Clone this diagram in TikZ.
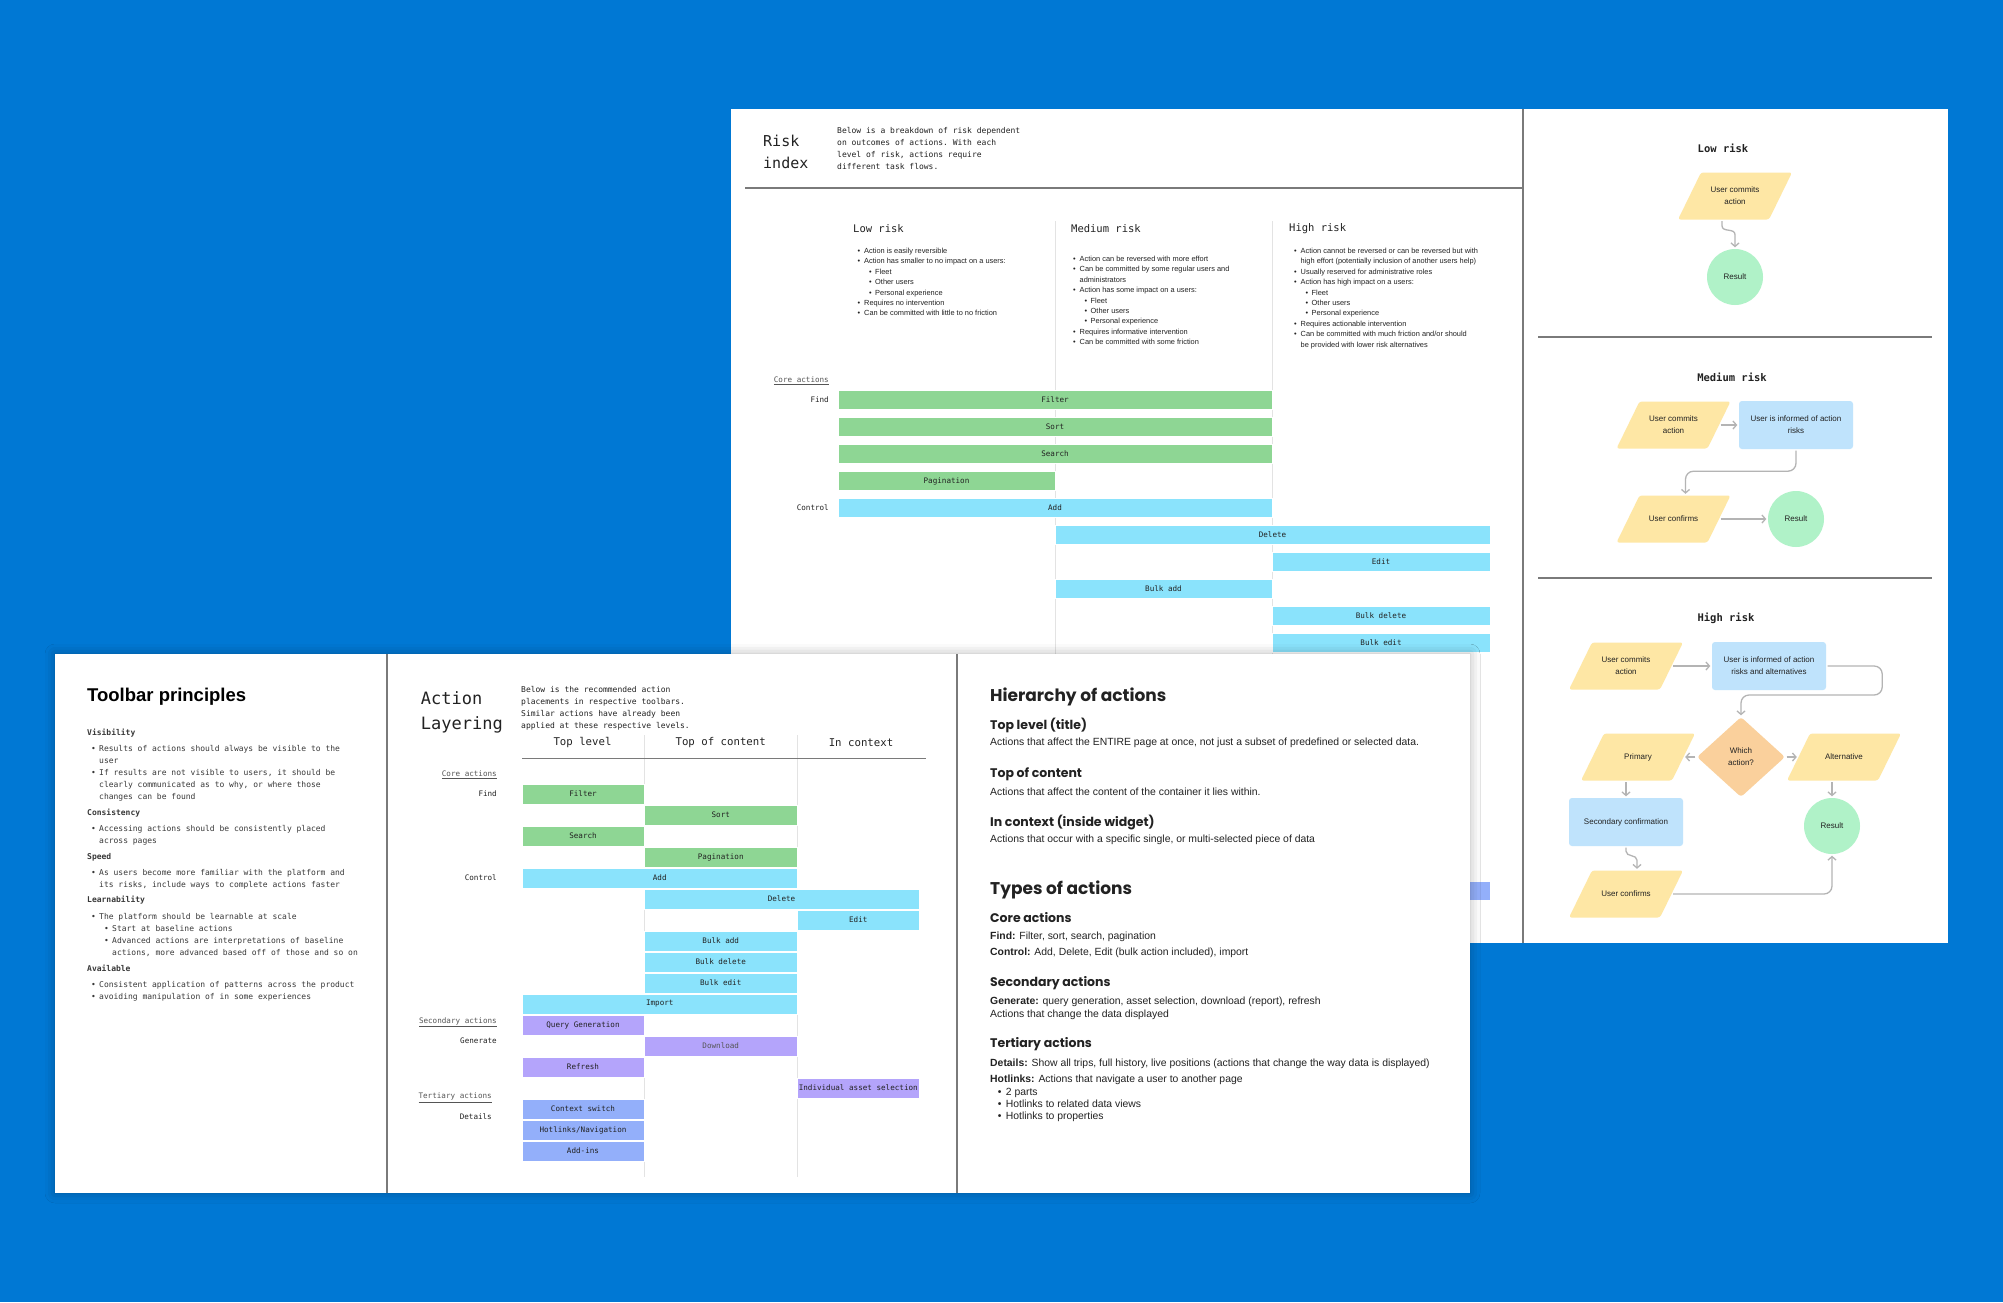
\documentclass[tikz,border=0pt]{standalone}
\usepackage{fontspec}
\setmainfont{Liberation Sans}
\setmonofont{DejaVu Sans Mono}
\newfontfamily\headfont{Poppins}
\usetikzlibrary{arrows.meta, positioning, shapes.geometric, shadows.blur}
\definecolor{cbg}{HTML}{0078D4}
\definecolor{cgreen}{HTML}{8ED694}
\definecolor{ccyan}{HTML}{8AE3FC}
\definecolor{cpurple}{HTML}{B4A4FB}
\definecolor{cperi}{HTML}{93AFFA}
\definecolor{cyellow}{HTML}{FEE7A5}
\definecolor{csky}{HTML}{BFE3FC}
\definecolor{cmint}{HTML}{B0F2C8}
\definecolor{corange}{HTML}{FAD09C}
\definecolor{carrow}{HTML}{B4B4B4}
\definecolor{crule}{HTML}{7A7A7A}
\definecolor{cfaint}{HTML}{E3E3E3}
\definecolor{cink}{HTML}{222222}
\definecolor{cgrey}{HTML}{555555}
\tikzset{
  sheet/.style={fill=white},
  divider/.style={draw=crule, line width=1.2pt},
  colline/.style={draw=cfaint, line width=0.8pt},
  mono/.style={font=\ttfamily\fontsize{8}{12}\selectfont, text=cink, inner sep=0pt, align=left},
  risklist/.style={font=\fontsize{7.4}{10.4}\selectfont, text=cink, inner sep=0pt, align=left, anchor=north west},
  colhead/.style={font=\ttfamily\fontsize{10.5}{12}\selectfont, text=cink, inner sep=0pt},
  rowlabel/.style={font=\ttfamily\fontsize{7.6}{9}\selectfont, text=cink, inner sep=0pt, anchor=east},
  grouplabel/.style={rowlabel, text=cgrey},
  actbar/.style={fill=#1, draw=white, line width=0.6pt, inner sep=0pt, minimum height=19pt, font=\ttfamily\fontsize{7.6}{9}\selectfont, text=cink},
  layerbar/.style={actbar=#1, minimum height=20pt},
  flowtitle/.style={font=\ttfamily\bfseries\fontsize{10.5}{12}\selectfont, text=cink, inner sep=0pt},
  flowtxt/.style={font=\fontsize{8}{12}\selectfont, text=cink, align=center, inner sep=0pt},
  flowpar/.style={flowtxt, minimum width=91pt, minimum height=47pt},
  flowbox/.style={flowtxt, fill=csky, rounded corners=3pt, minimum width=114pt, minimum height=48pt},
  flowend/.style={flowtxt, circle, fill=cmint, minimum size=56pt},
  flowask/.style={flowtxt, diamond, fill=corange, rounded corners=3pt, minimum width=88pt, minimum height=80pt},
  flow/.style={draw=carrow, line width=1.3pt, -{Straight Barb[length=3.5pt, width=8pt]}, shorten >=1.5pt, shorten <=1.5pt},
  hhead/.style={font=\headfont\bfseries\fontsize{17}{20}\selectfont, text=cink, inner sep=0pt, anchor=west},
  hsub/.style={font=\headfont\bfseries\fontsize{12.5}{15}\selectfont, text=cink, inner sep=0pt, anchor=west},
  hbody/.style={font=\fontsize{10.4}{12}\selectfont, text=cink, inner sep=0pt, align=left},
}
% yellow parallelogram behind a flow node
\newcommand{\parafill}[2]{\fill[cyellow, rounded corners=2.5pt] ({#1-34},{#2-23.5}) -- ({#1+57},{#2-23.5}) -- ({#1+34},{#2+23.5}) -- ({#1-57},{#2+23.5}) -- cycle;}
\newcommand{\rbul}{\makebox[6.5pt][l]{\textbullet}}
\newcommand{\rsub}{\hspace*{11.5pt}\makebox[6pt][l]{\textbullet}}
\newcommand{\rcont}{\hspace*{6.5pt}}
\newcommand{\tbul}{\hspace*{4pt}\makebox[8pt][l]{\textbullet}}
\newcommand{\tcont}{\hspace*{12pt}}
\newcommand{\tsub}{\hspace*{17pt}\makebox[8pt][l]{\textbullet}}
\newcommand{\tsubc}{\hspace*{25pt}}
\newcommand{\hbul}{\hspace*{7.7pt}\makebox[8pt][l]{\textbullet}}
\begin{document}
\begin{tikzpicture}[x=1pt, y=-1pt]
  \useasboundingbox (0,0) rectangle (2003,1302);
  \fill[cbg] (0,0) rectangle (2003,1302);
  % risk index sheet
  \fill[sheet] (731,109) rectangle (1948,943);
  \draw[divider] (1523,109) -- (1523,943);
  \draw[divider] (745,188) -- (1523,188);
  \node[mono, font=\ttfamily\fontsize{15}{22}\selectfont, anchor=north west] (rtitle) at (763,134.5) {Risk\\index};
  \node[mono, anchor=north west] (rintro) at (837,127.6) {Below is a breakdown of risk dependent\\on outcomes of actions. With each\\level of risk, actions require\\different task flows.};
  \draw[colline] (1055.5,221) -- (1055.5,654);
  \draw[colline] (1272,221) -- (1272,654);
  \node[colhead, anchor=west] (rlow) at (853,229) {Low risk};
  \node[colhead, anchor=west] (rmed) at (1071,229) {Medium risk};
  \node[colhead, anchor=west] (rhigh) at (1289,229) {High risk};
  \node[risklist] (lowlist) at (857.5,247.9) {\rbul Action is easily reversible\\
    \rbul Action has smaller to no impact on a users:\\
    \rsub Fleet\\ \rsub Other users\\ \rsub Personal experience\\
    \rbul Requires no intervention\\
    \rbul Can be committed with little to no friction};
  \node[risklist] (medlist) at (1073,255.9) {\rbul Action can be reversed with more effort\\
    \rbul Can be committed by some regular users and\\
    \rcont administrators\\
    \rbul Action has some impact on a users:\\
    \rsub Fleet\\ \rsub Other users\\ \rsub Personal experience\\
    \rbul Requires informative intervention\\
    \rbul Can be committed with some friction};
  \node[risklist] (highlist) at (1294,247.9) {\rbul Action cannot be reversed or can be reversed but with\\
    \rcont high effort (potentially inclusion of another users help)\\
    \rbul Usually reserved for administrative roles\\
    \rbul Action has high impact on a users:\\
    \rsub Fleet\\ \rsub Other users\\ \rsub Personal experience\\
    \rbul Requires actionable intervention\\
    \rbul Can be committed with much friction and/or should\\
    \rcont be provided with lower risk alternatives};
  % risk chart
  \node[grouplabel] (rcore) at (829,381) {\underline{Core actions}};
  \node[rowlabel] (rfind) at (829,400) {Find};
  \node[rowlabel] (rcontrol) at (829,508) {Control};
  \node[actbar=cgreen, minimum width=434pt] (bfilter) at (1055,400) {Filter};
  \node[actbar=cgreen, minimum width=434pt] (bsort) at (1055,427) {Sort};
  \node[actbar=cgreen, minimum width=434pt] (bsearch) at (1055,454) {Search};
  \node[actbar=cgreen, minimum width=217pt] (bpagin) at (946.5,481) {Pagination};
  \node[actbar=ccyan, minimum width=434pt] (badd) at (1055,508) {Add};
  \node[actbar=ccyan, minimum width=435pt] (bdelete) at (1272.5,535) {Delete};
  \node[actbar=ccyan, minimum width=218pt] (bedit) at (1381,562) {Edit};
  \node[actbar=ccyan, minimum width=217pt] (bbulkadd) at (1163.5,589) {Bulk add};
  \node[actbar=ccyan, minimum width=218pt] (bbulkdel) at (1381,616) {Bulk delete};
  \node[actbar=ccyan, minimum width=218pt] (bbulkedit) at (1381,643) {Bulk edit};
  \fill[cperi] (1272,882) rectangle (1490,900);
  % low risk flow
  \node[flowtitle] (flow) at (1723,148) {Low risk};
  \parafill{1735}{196}
  \node[flowpar] (lcommit) at (1735,196) {User commits\\action};
  \node[flowend] (lresult) at (1735,277) {Result};
  \draw[flow] ([xshift=-13pt]lcommit.south) -- ++(0,6) .. controls +(0,7) and +(0,-7) .. ++(13,9) -- (lresult.north);
  \draw[divider] (1538,337) -- (1932,337);
  % medium risk flow
  \node[flowtitle] (fmed) at (1732,377) {Medium risk};
  \parafill{1673.5}{425}
  \node[flowpar] (mcommit) at (1673.5,425) {User commits\\action};
  \node[flowbox] (minform) at (1796,425) {User is informed of action\\risks};
  \parafill{1673.5}{519}
  \node[flowpar] (mconfirm) at (1673.5,519) {User confirms};
  \node[flowend] (mresult) at (1796,519) {Result};
  \draw[flow] (mcommit.east) -- (minform.west);
  \draw[flow, rounded corners=8pt] (minform.south) -- ++(0,22) -| ([xshift=12pt]mconfirm.north);
  \draw[flow] (mconfirm.east) -- (mresult.west);
  \draw[divider] (1538,578) -- (1932,578);
  % high risk flow
  \node[flowtitle] (fhigh) at (1726,618) {High risk};
  \parafill{1626}{666}
  \node[flowpar] (hcommit) at (1626,666) {User commits\\action};
  \node[flowbox] (hinform) at (1769,666) {User is informed of action\\risks and alternatives};
  \node[flowask] (hwhich) at (1741,757) {Which\\action?};
  \parafill{1638}{757}
  \node[flowpar] (hprimary) at (1638,757) {Primary};
  \parafill{1844}{757}
  \node[flowpar] (halt) at (1844,757) {Alternative};
  \node[flowbox] (hsecond) at (1626,822) {Secondary confirmation};
  \node[flowend] (hresult) at (1832,826) {Result};
  \parafill{1626}{894}
  \node[flowpar] (hconfirm) at (1626,894) {User confirms};
  \draw[flow] (hcommit.east) -- (hinform.west);
  \draw[flow, rounded corners=8pt] (hinform.east) -- ++(56,0) -- ++(0,29) -| (hwhich.north);
  \draw[flow] (hwhich.west) -- (hprimary.east);
  \draw[flow] (hwhich.east) -- (halt.west);
  \draw[flow] ([xshift=-12pt]hprimary.south) -- (hsecond.north);
  \draw[flow] ([xshift=-12pt]halt.south) -- (hresult.north);
  \draw[flow] (hsecond.south) -- ++(0,5) .. controls +(0,6) and +(0,-6) .. ++(11,9) -- ([xshift=11pt]hconfirm.north);
  \draw[flow, rounded corners=8pt] (hconfirm.east) -| (hresult.south);

  % front sheet
  \fill[sheet, blur shadow={shadow blur radius=10pt, shadow xshift=0pt, shadow yshift=0pt, shadow opacity=30}] (55,654) rectangle (1470,1193);
  \draw[divider] (387,654) -- (387,1193);
  \draw[divider] (957,654) -- (957,1193);
  % toolbar principles
  \node[font=\bfseries\fontsize{18.5}{22}\selectfont, text=black, inner sep=0pt, anchor=west] (tbtitle) at (87,697) {Toolbar principles};
  \node[mono, text=cink!90, anchor=north west] (tblist) at (87,728.6) {\textbf{Visibility}\\[4pt]
    \tbul Results of actions should always be visible to the\\
    \tcont user\\
    \tbul If results are not visible to users, it should be\\
    \tcont clearly communicated as to why, or where those\\
    \tcont changes can be found\\[4pt]
    \textbf{Consistency}\\[4pt]
    \tbul Accessing actions should be consistently placed\\
    \tcont across pages\\[4pt]
    \textbf{Speed}\\[4pt]
    \tbul As users become more familiar with the platform and\\
    \tcont its risks, include ways to complete actions faster\\[3pt]
    \textbf{Learnability}\\[5pt]
    \tbul The platform should be learnable at scale\\
    \tsub Start at baseline actions\\
    \tsub Advanced actions are interpretations of baseline\\
    \tsubc actions, more advanced based off of those and so on\\[4pt]
    \textbf{Available}\\[4pt]
    \tbul Consistent application of patterns across the product\\
    \tbul avoiding manipulation of in some experiences};
  % action layering
  \node[mono, font=\ttfamily\fontsize{17}{25}\selectfont, anchor=north west] (altitle) at (420.7,691.3) {Action\\Layering};
  \node[mono, anchor=north west] (alintro) at (521,686.6) {Below is the recommended action\\placements in respective toolbars.\\Similar actions have already been\\applied at these respective levels.};
  \node[colhead, font=\ttfamily\fontsize{10.7}{12}\selectfont] (ltoplevel) at (582.5,742.7) {Top level};
  \node[colhead, font=\ttfamily\fontsize{10.7}{12}\selectfont] (ltopcontent) at (720.7,742.7) {Top of content};
  \node[colhead, font=\ttfamily\fontsize{10.7}{12}\selectfont] (lincontext) at (861,742.7) {In context};
  \draw[colline] (644,735) -- (644,1177);
  \draw[colline] (797.5,735) -- (797.5,1177);
  \draw[draw=crule, line width=1pt] (522,758.3) -- (926,758.3);
  \node[grouplabel] (lcore) at (497,775) {\underline{Core actions}};
  \node[rowlabel] (lfind) at (497,794) {Find};
  \node[rowlabel] (lcontrol) at (497,878) {Control};
  \node[grouplabel] (lsecondary) at (497,1022) {\underline{Secondary actions}};
  \node[rowlabel] (lgenerate) at (497,1041) {Generate};
  \node[grouplabel] (ltertiary) at (492,1097.7) {\underline{Tertiary actions}};
  \node[rowlabel] (ldetails) at (492,1116.7) {Details};
  \node[layerbar=cgreen, minimum width=122pt] (lfilter) at (583,794) {Filter};
  \node[layerbar=cgreen, minimum width=153.5pt] (lsort) at (720.75,815) {Sort};
  \node[layerbar=cgreen, minimum width=122pt] (lsearch) at (583,836) {Search};
  \node[layerbar=cgreen, minimum width=153.5pt] (lpagin) at (720.75,857) {Pagination};
  \node[layerbar=ccyan, minimum width=275.5pt] (ladd) at (659.75,878) {Add};
  \node[layerbar=ccyan, minimum width=275pt] (ldelete) at (781.5,899) {Delete};
  \node[layerbar=ccyan, minimum width=121.5pt] (ledit) at (858.25,920) {Edit};
  \node[layerbar=ccyan, minimum width=153.5pt] (lbulkadd) at (720.75,941) {Bulk add};
  \node[layerbar=ccyan, minimum width=153.5pt] (lbulkdel) at (720.75,962) {Bulk delete};
  \node[layerbar=ccyan, minimum width=153.5pt] (lbulkedit) at (720.75,983) {Bulk edit};
  \node[layerbar=ccyan, minimum width=275.5pt] (limport) at (659.75,1004) {Import};
  \node[layerbar=cpurple, minimum width=122pt] (lquery) at (583,1025) {Query Generation};
  \node[layerbar=cpurple, minimum width=153.5pt, text=cgrey] (ldownload) at (720.75,1046) {Download};
  \node[layerbar=cpurple, minimum width=122pt] (lrefresh) at (583,1067) {Refresh};
  \node[layerbar=cpurple, minimum width=121.5pt] (lasset) at (858.25,1088) {Individual asset selection};
  \node[layerbar=cperi, minimum width=122pt] (lcontext) at (583,1109) {Context switch};
  \node[layerbar=cperi, minimum width=122pt] (lhotlinks) at (583,1130) {Hotlinks/Navigation};
  \node[layerbar=cperi, minimum width=122pt] (laddins) at (583,1151) {Add-ins};
  % hierarchy of actions
  \node[hhead] (hierhead) at (990,696.7) {Hierarchy of actions};
  \node[hsub] (htop) at (990,725) {Top level (title)};
  \node[hbody, anchor=west] (htopdesc) at (990,742.7) {Actions that affect the ENTIRE page at once, not just a subset of predefined or selected data.};
  \node[hsub] (hcontent) at (990,774) {Top of content};
  \node[hbody, anchor=west] (hcontentdesc) at (990,791.3) {Actions that affect the content of the container it lies within.};
  \node[hsub] (hcontext) at (990,822.7) {In context (inside widget)};
  \node[hbody, anchor=west] (hcontextdesc) at (990,840) {Actions that occur with a specific single, or multi-selected piece of data};
  % types of actions
  \node[hhead] (typehead) at (990,890) {Types of actions};
  \node[hsub] (tcore) at (990,917.7) {Core actions};
  \node[hbody, anchor=north west, font=\fontsize{10.4}{16}\selectfont] (tcoredesc) at (990,931.6) {\textbf{Find:} Filter, sort, search, pagination\\\textbf{Control:} Add, Delete, Edit (bulk action included), import};
  \node[hsub] (tsecond) at (990,983.3) {Secondary actions};
  \node[hbody, anchor=north west, font=\fontsize{10.4}{12.7}\selectfont] (tseconddesc) at (990,996.9) {\textbf{Generate:} query generation, asset selection, download (report), refresh\\Actions that change the data displayed};
  \node[hsub] (tthird) at (990,1044.3) {Tertiary actions};
  \node[hbody, anchor=north west, font=\fontsize{10.4}{16.6}\selectfont] (tthirddesc) at (990,1058.3) {\textbf{Details:} Show all trips, full history, live positions (actions that change the way data is displayed)\\\textbf{Hotlinks:} Actions that navigate a user to another page};
  \node[hbody, anchor=north west, font=\fontsize{10.4}{12.4}\selectfont] (tlinks) at (990,1087.6) {\hbul 2 parts\\\hbul Hotlinks to related data views\\\hbul Hotlinks to properties};
\end{tikzpicture}
\end{document}
